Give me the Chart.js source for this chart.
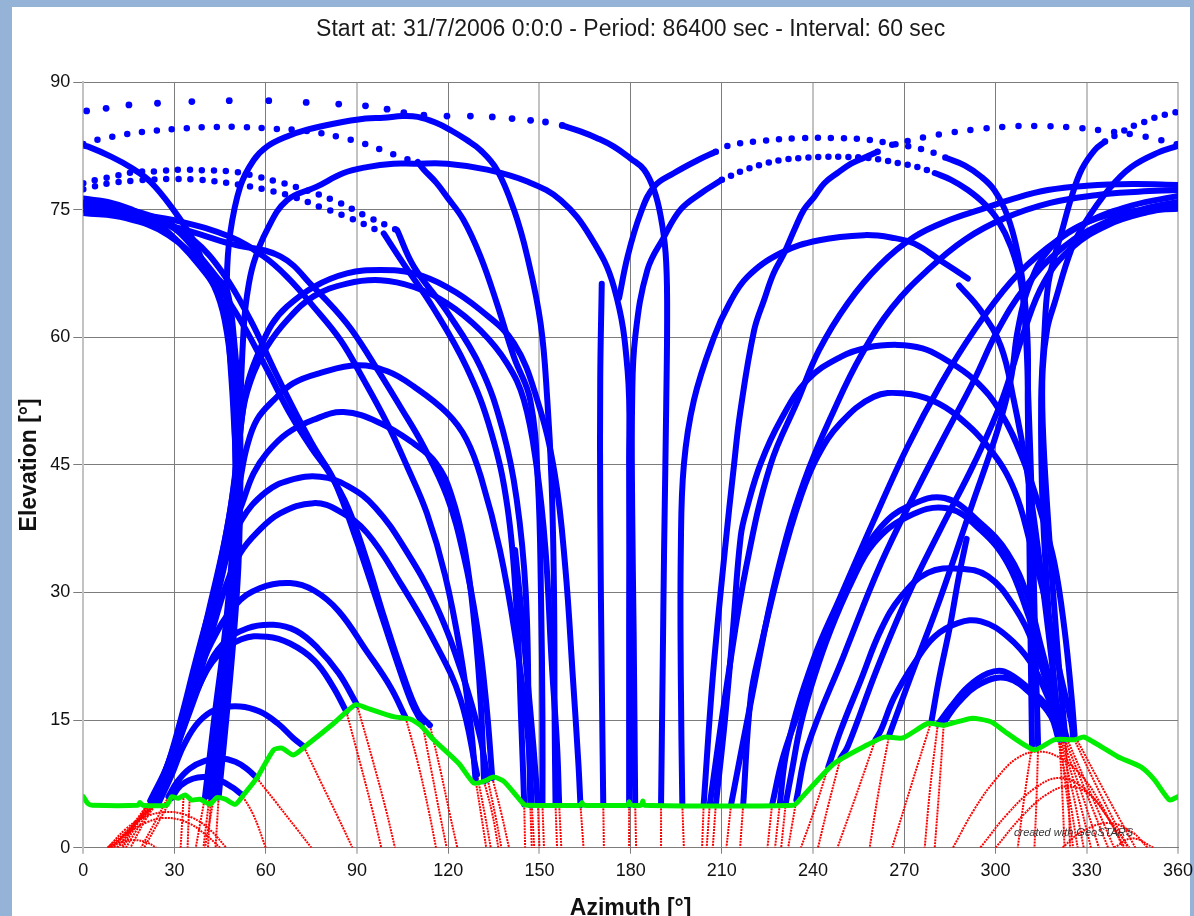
<!DOCTYPE html>
<html><head><meta charset="utf-8">
<script src="https://cdn.jsdelivr.net/npm/chart.js@4.4.1/dist/chart.umd.min.js"></script>
<style>
html,body{margin:0;padding:0;width:1194px;height:916px;overflow:hidden;background:#95b3d7;}
#frame{position:absolute;left:12px;top:7px;width:1178px;height:909px;background:#fff;}
#c{position:absolute;left:0;top:0;}
#credit{position:absolute;left:1014px;top:826px;font:italic 11px "Liberation Sans",Arial,sans-serif;color:#333;}
</style></head>
<body>
<div id="frame"></div>
<canvas id="c" width="1200" height="916"></canvas>
<div id="credit">created with GeoSTARS</div>
<script>
// ---------- DATA (azimuth °, elevation °) ----------
const xTickValues = [0,30,60,90,120,150,180,210,240,270,300,330,360];
const xTickLabels = ['0','30','60','90','120','150','180','210','240','270','300','330','360'];
const yTickValues = [0,15,30,45,60,75,90];
const yTickLabels = ['0','15','30','45','60','75','90'];

const maskTrack = [[0,6],[1.5,5.2],[3,5],[18,5],[18.6,5.3],[19.5,5],[27.4,5],[29.1,6],[31.2,5.8],[33.5,6.2],[35.7,5.6],[38.4,5.7],[41.7,5.1],[43.9,5.9],[46.7,5.7],[50,5.1],[52.7,6.2],[57.1,8.2],[62.6,11.5],[65.3,11.7],[69.1,10.9],[73.6,12.1],[82.3,14.6],[89.5,16.8],[93.3,16.4],[102,15.4],[107.6,15.1],[110.8,14.4],[115.2,12.7],[123.5,9.9],[128.4,7.6],[131.7,7.8],[135,8.3],[138.3,7.8],[142.7,6],[144.9,5.1],[146,5],[163.5,5],[164,5.3],[164.5,5],[179,5],[179.5,5.4],[180,5],[183.5,5],[184,5.5],[184.5,5],[233.6,5],[236,5.8],[246.9,9.9],[257.9,12.1],[263.4,13],[269.5,12.9],[277.7,14.6],[283.2,14.4],[292,15.2],[298.5,14.8],[304,13.4],[312.8,11.5],[319.4,12.7],[326,12.7],[329.2,13],[340.2,10.7],[347.8,9.5],[352.2,8],[357.2,5.6],[360,6]];

// sparse single dots (near zenith)
const dotPoints = [[1.1,86.6],[7.5,86.9],[15,87.3],[24.4,87.5],[35.7,87.7],[48,87.8],[61,87.8],[73.3,87.6],[84,87.4],[92.8,87.2],[99.9,86.8],[105.4,86.4],[112,86.1],[119.6,86],[127.3,86],[134.5,85.9],[141,85.7],[147.1,85.5],[152,85.3],[157.5,84.9]];

// dotted (fast moving) track parts
const dottedTracks = [
 [[0,82.7],[2.2,83],[6,83.3],[13,83.8],[21.6,84.2],[31,84.5],[41.5,84.7],[52.3,84.7],[62.8,84.5],[72.4,84.3],[84.5,83.5],[91,82.9],[99.9,81.8],[104,81.2],[110,80.6]],
 [[0,78.1],[4.4,78.5],[10,78.9],[16.5,79.4],[24,79.5],[32.4,79.7],[40.6,79.6],[48.3,79.5],[56,79],[63.7,78.3],[71.3,77.5],[82.3,76.1],[93.3,74.2],[103.2,72.6]],
 [[0,77.4],[8.7,78.1],[16.5,78.4],[29.6,78.6],[38.4,78.5],[51.6,77.9],[60.4,77.3],[69.1,76.5],[78,75.3],[87.8,74],[98.8,72.2]],
 [[208,81.8],[213,82.6],[224,83.1],[235,83.4],[249.7,83.4],[258.5,83.2],[266.7,82.7],[273.3,82.3],[278.8,81.8],[284.3,81]],
 [[210,78.5],[217,79.6],[224,80.4],[231,80.9],[237.6,81.1],[244.2,81.2],[250.8,81.2],[257.4,81.1],[263.4,80.8],[269,80.4],[274.4,80],[280,79.3]],
 [[261.2,81.8],[265,82.5],[270.5,83],[277.7,83.6],[286,84.1],[295.2,84.5],[306.2,84.8],[316.7,84.8],[327.2,84.6],[337.1,84.2],[345.7,83.8],[352.9,83.3],[360,82.65]],
 [[336,83],[340.8,84],[345.7,84.9],[349,85.3],[352.3,85.8],[356.2,86.2],[360,86.5]]
];
const dottedGaps = [15,12,12,13,10,16,11];

const blueTracks = [
 [[157.5,84.9],[163.5,84.2],[169,83.4],[174.5,82.4],[180,81],[184.4,79.7],[187.7,77.3],[189.9,74.2],[191.5,69.9],[192,64],[191.7,52],[191,35],[190.5,20],[190,5]],
 [[110,80.6],[112,79.7],[116,78.2],[119.6,76.5],[125,73.8],[130.6,69.5],[136,64],[141.6,57.7],[147,52.6],[149.5,43],[150.5,30],[151,15],[151,5]],
 [[103.2,72.6],[108.7,68.3],[119.6,63],[130.6,56.5],[138,49],[142.5,41],[145.5,30],[146.5,15],[147,5]],
 [[98.8,72.2],[105,68.8],[115,63.5],[126,56.5],[134,49],[139.5,40],[142.5,28],[144,15],[145,5.1]],
 [[42,5.9],[44.5,15],[47,25],[49,33],[50.5,40],[49.4,51.1],[47.7,60.8],[47.2,66.7],[48.3,72.2],[51.6,77.7],[56,80.8],[60.4,82.4],[67,83.6],[73.6,84.4],[82.3,85.1],[92.8,85.7],[98.8,85.8],[105,86],[110,85.9],[116,85.2],[121,84.3],[126,83.2],[130.6,82],[136,79.7],[141.6,75],[146,69.5],[150.4,61.6],[152.6,52.6],[154,43],[154.8,30],[155,15],[155.3,5]],
 [[44.5,5.9],[47,15],[49.5,25],[51,33],[51.5,40],[51.6,51.1],[52.7,60.8],[53.8,64.8],[56,68.7],[60.4,72.6],[67,76.1],[76.8,77.7],[85.6,79.3],[93.3,80],[102,80.4],[108.7,80.4],[119.6,80.4],[132.8,79.7],[146,78.3],[157,76.1],[166.8,71.8],[174.5,65.9],[179,56.1],[179.5,45],[179.5,25],[179.5,5]],
 [[170.5,66.3],[170,55],[170,40],[170.5,20],[171,5]],
 [[176.2,64.6],[179,69.5],[183.3,74.6],[187.7,77.7],[194.3,79.3],[202,80.8],[208,81.8]],
 [[284.3,81],[289.8,80.2],[295.2,78.9],[299.6,77.3],[304,74.2],[307.3,69.9],[309.5,64.8],[310.6,58.9],[310.6,52.6],[311,40],[311.5,25],[312,12]],
 [[181.5,5],[181,25],[180.5,40],[180.5,52.6],[181.5,60],[185.5,67.9],[191,71.8],[196.4,75],[203,76.9],[210,78.5]],
 [[280,79.3],[285.4,78.5],[290.9,77.3],[296.3,75.7],[300.7,73.8],[305.1,70.6],[308.4,66.3],[310,60.1],[310.8,52.6],[312,40],[313,25],[314,12]],
 [[204,5],[207,20],[211,35],[214,45],[216,51.1],[220.6,60.8],[224,64.5],[227,67.5],[230.5,69.9],[233.8,72.6],[237,75],[240.4,76.5],[243.7,78.1],[248,79.3],[252.5,80.4],[256.8,81.1],[261.2,81.8]],
 [[321,12.7],[318,25],[315.5,40],[315,52.6],[316,60],[317.2,65.9],[319.4,69.5],[321.6,72.2],[325,76.5],[328.3,79.7],[332.6,82],[336,83]],
 [[323,12.7],[320,25],[317,40],[315.5,50],[315.5,56.2],[317,61],[319.4,64],[324.9,70.3],[329.3,73.4],[337.5,77.5],[344.6,80],[353.4,81.7],[360,82.5]],
 [[0,82.5],[1.6,82.4],[9.3,81.2],[15.4,80],[22,78.3],[29.6,75],[36.2,71.4],[39.5,68.7],[44,65.5],[47.5,62],[49.5,56],[50.3,48],[50,40],[48.5,30],[46,20],[43.5,12],[41.5,6]],
 [[197,5],[196.5,20],[196.5,35],[197.5,45],[200.8,52.6],[207.4,60],[212.5,64],[218.4,67.1],[229.4,69.9],[242,71.4],[256.8,72],[266,71.7],[273.3,71],[282,69],[290.9,66.9]],
 [[288,66.1],[295,63.2],[301.8,58.9],[306,52.6],[310,45],[314,35],[317.5,25],[320,17],[321,13]],
 [[142,35],[144,28],[146,20],[148,12],[149.5,5]],
 [[290.5,36.3],[288,32],[285,26],[281.5,20],[279,15]],
 [[29,5.8],[32,7.3],[36,8.1],[40,8.3],[45,7.9],[49,7.1],[52,6.3]],
 [[28,6],[31,7.8],[35,9.3],[40,10.2],[45,10.5],[50,10.1],[54,9.2],[57,8.2]],
 [[25,5.4],[29,8.5],[33,12],[38,14.8],[44,16.3],[51.6,16.6],[58,16],[64,14.6],[69,12.9],[72.5,11.9]],
 [[24,5.3],[29,10],[33,14.5],[38,19],[44,22.5],[52,24.5],[60.4,24.8],[68,24],[76,22],[82,19],[86.5,16]],
 [[24.5,5.5],[30,11],[35,16],[40,20.5],[46,24],[54,25.8],[62.6,26.2],[70,25.5],[77,23.5],[84,20.5],[90,16.8]],
 [[24,5.5],[30,12],[36,18.5],[42,24],[50,28.5],[58,30.5],[68,31.1],[76,30.2],[84,27.8],[93,23.2],[101,18.9],[106,15.3]],
 [[23,5.6],[27.5,8.7],[33,14.2],[38.4,20.5],[42.8,26],[47.2,31.1],[51.6,34.6],[57,37],[64.7,39.3],[75.7,40.5],[84,39.6],[93.3,37],[104.3,31.1],[115.2,24.4],[124,17.5],[129.5,8.6]],
 [[22.5,5.6],[27,9],[32,15],[37,22],[42,28.5],[47,34],[52,38.5],[60,41.8],[68,43.2],[77.9,43.6],[87,42.5],[96,40],[106,35],[116,28.5],[125,20],[130.5,13],[133,8]],
 [[22,5.5],[28,10],[34,17],[40,24],[45,31],[49,37],[52.7,40.9],[56,44],[60.4,46.4],[67,48.7],[75.7,50.3],[85.6,51.2],[97.7,49.9],[108.7,47.5],[116,45.2],[121,41.5],[125.5,35],[128.7,26],[130.7,17],[131.8,7.8]],
 [[23,5.5],[29,11],[35,18],[41,26],[46,33],[50,40],[51.6,43.2],[53.8,47.1],[57.1,50.3],[62.6,52.6],[69.1,54.6],[78,55.8],[90,56.7],[100,56],[108.7,54.2],[119.6,51.1],[126,48],[131,43.3],[137,35],[142,25],[146,14],[147.5,5]],
 [[24,5.5],[30,12],[36,20],[42,29],[47,37],[50.5,45],[52.7,51.8],[56,55.8],[60.4,58.9],[67,62],[75.7,64.8],[86.7,66.3],[97.7,66.7],[108.7,65.9],[119.6,64],[130.6,60.8],[139.4,56.9],[144.9,52.6],[149,45],[152,35],[154,22],[155.8,12],[156.5,5]],
 [[24.5,5.5],[31,13],[37,21],[43,30],[48,39],[51,47],[53.8,54.2],[58,58.5],[62,61.5],[67,63.6],[75.7,65.9],[86.7,67.5],[97.7,67.9],[108.7,67.5],[119.6,65.9],[130.6,63.2],[141.6,59.3],[149.3,52.6],[155,44],[158.5,33],[161,20],[162.8,10],[163.5,5]],
 [[0,75.7],[12,75.2],[24,74],[36,71.5],[46,67.5],[55,62],[63,56],[70,51],[76,47],[82.3,43.3],[90,36],[97,28.5],[103,22],[108,17],[111.5,14.6]],
 [[0,74.6],[14,74],[28,72],[40,68],[50,63],[60,56.5],[68,51],[75,47],[81,44],[87,40],[93,34],[99,27],[105,20.5],[110,16],[114,14.4]],
 [[0,76.3],[8,75.9],[16,75],[24,73.5],[31.8,71],[38,68.5],[43,66],[46.5,62],[49,55],[50,45],[49,35],[46.5,25],[43,15],[40,5.9]],
 [[0,75.8],[15.4,74.8],[24,73.8],[31,72.5],[38.4,69.5],[44,67],[47.2,65.6],[49.5,60],[51.5,50],[51.5,40],[50,30],[47.5,20],[44.5,11],[43,6]],
 [[0,75.4],[15.4,74.6],[31.9,73.6],[48.3,71.8],[59.3,69.5],[67,67.1],[75.7,63.6],[84.5,59.7],[92.2,55],[99.9,49.9],[106.5,44.8],[113,39.3],[119,32],[124,23],[127.5,14],[129,8]],
 [[0,75],[15,74.2],[31.8,72.8],[48.3,71],[64.8,69.5],[75.7,65.9],[86.7,61.6],[95.5,56.9],[104.3,51.8],[112,47.1],[119.6,41.3],[125,34.5],[129.5,26],[132.5,17],[134.5,8.2]],
 [[206,5],[212,20],[218,33],[226,45],[235,52.6],[242,58.5],[251.4,64],[262,68.5],[273.3,71.8],[285,73.8],[295,75],[306,76.3],[317.2,77.3],[330,77.8],[345,78],[360,77.9]],
 [[213,5],[220,18],[228,32],[237,43],[248,52.3],[256,58],[266,63.5],[278,68],[290,71.5],[303,74],[318,75.8],[333,76.7],[347,77.1],[360,77.3]],
 [[229,5],[231.6,11.9],[240,22],[249,29.5],[260,38.5],[271,47.1],[282,54.5],[293,60.8],[305,66.5],[317,70.5],[330,73.5],[345,75.5],[360,76.6]],
 [[234.5,5.6],[238.2,11.9],[250,22.5],[262.3,33.4],[274,42],[284.3,49.1],[293,55],[300.7,60.8],[310,66],[322,70.5],[336,73.5],[350,75.2],[360,75.9]],
 [[249,10.5],[251.4,11.9],[261,21],[271,29.5],[282,37.5],[293,45.2],[302,52.5],[309.5,60.8],[316,66.5],[325,70.5],[337,73.2],[350,74.7],[360,75.3]],
 [[265,13.2],[272,20],[282,29.5],[292,40],[300.7,49.1],[305,55],[307.3,60.8],[311,66],[318,70.5],[330,73.5],[345,74.8],[360,75.1]],
 [[208,5],[211,15],[213.5,25],[216.2,36.6],[218.4,40.1],[222.8,45.2],[229.4,50.3],[238.2,55],[249.1,57.7],[258,58.8],[267.8,59.1],[276,58.7],[282,57.7],[293,55],[301.8,51.1],[309.5,45.2],[315,39.3],[319.4,33.4],[322.7,25.6],[325,17.7],[326,13.2]],
 [[217,5],[219.5,17.7],[222.8,23.6],[229.4,33.4],[236,41.3],[241.5,46],[249,49.9],[260,53],[270,53.4],[279,52.6],[287.6,50.7],[298.5,46.7],[306.2,42],[311.7,35.4],[316.1,29.5],[320.5,21.7],[325,14.6],[325.5,13]],
 [[226.5,5],[230,10.5],[235,15.8],[240.4,21.7],[247,27.5],[254.7,33.4],[262.3,37.7],[271.1,40.1],[283.2,41.1],[295.2,38.1],[304,34.6],[310.6,29.5],[315,23.6],[319.4,17.7],[322.7,13.8],[323.5,12.8]],
 [[231,5.2],[233,9],[236,14.6],[240.4,20.1],[245.8,25.6],[252.5,31.1],[260,35.8],[271.1,38.9],[284,39.9],[295.2,37.3],[304,33.4],[310.6,27.5],[316,21.7],[320.5,15.8],[322.5,13]],
 [[245,9.5],[249.1,13.8],[255.7,19.7],[262.3,25.6],[268.9,29.5],[277.7,32.3],[288,32.8],[297.5,31.9],[306.2,28.3],[312.8,23.6],[318.3,17.7],[321.6,13.8],[322,12.8]],
 [[260.5,12.7],[262.3,13.8],[266.7,17.7],[273.3,21.7],[279.9,24.8],[287.6,26.4],[295.2,26.6],[304,24.8],[311.7,21.7],[317.2,17.7],[320.5,14.6],[321.5,12.8]],
 [[281,14.5],[285.4,16.6],[290.9,18.9],[297.5,20.5],[302.9,20.7],[311.7,18.5],[317.2,16.6],[320,15],[321,13]],
 [[283,14.7],[287.6,17],[295.2,19.3],[304,19.9],[312.8,17.7],[318.3,15.4],[320.5,13]]
];

const redTracks = [
 [[25,5.4],[17,2.7],[8,0]],[[24,5.3],[16.5,2.7],[8.5,0]],[[24,5.5],[17,2.8],[9.5,0]],[[24.5,5.5],[18,3],[11,0]],
 [[23,5.6],[17.5,3],[12.5,0]],[[22.5,5.6],[17,2.8],[11.5,0]],[[22,5.5],[16,2.6],[10,0]],[[23,5.5],[18,2.9],[13,0]],
 [[24,5.5],[19,2.9],[14,0]],[[24.5,5.5],[20,3],[15.5,0]],[[29,5.8],[25,3.2],[20,0]],[[28,6],[24,3.3],[19,0]],
 [[40,5.9],[38.5,3],[37,0]],[[43,6],[41.5,3],[40,0]],[[41.5,6],[40.5,3],[39.5,0]],[[42,5.9],[41.5,3],[41,0]],[[44.5,5.9],[44,3],[43.5,0]],
 [[33,6.2],[32.5,3],[32,0]],[[35,5.8],[34.6,3],[34.3,0]],
 [[8,0],[14,2.2],[20,3.6],[28.6,4.2],[36,3.5],[42,2],[47,0]],
 [[9,0],[15,1.8],[21,3],[27,3.5],[34,3],[40,1.6],[45,0]],
 [[8,0],[12,0.6],[16.5,0.9],[21,0.6],[24,0]],
 [[52,6.3],[56,3.8],[60,0]],[[57,8.2],[63,5.5],[70,2.3],[75,0]],[[72.5,11.9],[78,7.8],[84,3.4],[88.5,0]],
 [[86.5,16],[91,10],[95,4.5],[98,0]],[[90,16.8],[95,10.5],[99.5,4.5],[102.5,0]],[[106,15.3],[110,10],[113.5,4.5],[116,0]],
 [[111.5,14.6],[114.5,9],[117.5,3.5],[119.5,0]],[[114,14.4],[117.5,9],[120.5,4],[123,0]],
 [[129,8],[131,3.5],[132.5,0]],[[129.5,8.6],[132,4],[134,0]],[[133,8],[135.5,3.8],[137.5,0]],[[131.8,7.8],[134.5,4],[136.5,0]],[[134.5,8.2],[137.5,4],[140,0]],
 [[145,5.1],[145.3,0]],[[147,5],[147.5,0]],[[147.5,5],[148.3,0]],[[149.5,5],[150,0]],[[151,5],[151.5,0]],[[155.3,5],[155.8,0]],[[156.5,5],[157.2,0]],[[163.5,5],[164.5,0]],
 [[171,5],[171.2,0]],[[179.5,5],[179.5,0]],[[181.5,5],[181.8,0]],[[190,5],[190,0]],[[197,5],[197.5,0]],[[204,5],[203.5,0]],[[206,5],[205,0]],
 [[208,5],[207,0]],[[213,5],[211.5,0]],[[217,5],[216,0]],[[226.5,5],[225,0]],[[229,5],[227.5,0]],[[231,5.2],[229.5,0]],[[234.5,5.6],[233,2.5],[231.8,0]],
 [[245,9.5],[240.5,4.5],[236,0]],[[249,10.5],[245,5],[241.6,0]],[[260.5,12.7],[254,6],[248,0]],[[265,13.2],[261.5,6.5],[258.6,0]],
 [[279,15],[272,7],[266,0]],[[281,14.5],[278.5,7],[276.7,0]],[[283,14.7],[281.5,7],[280,0]],
 [[312,12],[309.5,6],[307.3,0]],[[314,12],[313.5,6],[312.8,0]],
 [[326,13.2],[336,6.5],[346,0]],[[325.5,13],[334.5,6.3],[343.5,0]],[[323.5,12.8],[331.5,6.2],[339,0]],[[322.5,13],[330,6.3],[337,0]],
 [[322,12.8],[328.5,6.2],[334,0]],[[321.5,12.8],[327,6.2],[331.4,0]],[[321,13],[325.5,6.3],[329,0]],[[320.5,13],[324,6.5],[327,0]],
 [[321,12.7],[322,6],[322.7,0]],[[323,12.7],[324,6],[324.5,0]],[[321,13],[323.5,6],[325.5,0]],
 [[286,0],[293,4.5],[300,8],[307,10.5],[314,11.3],[321,10.6],[328,8.6],[334,5.5],[340,1.5],[342,0]],
 [[295,0],[304,4],[313,7],[321,8.2],[329,7],[336,4],[342.5,0]],
 [[300,0],[309,3.8],[317,6.3],[324,7.2],[331,6.2],[338,3],[344,0]],
 [[322,0],[328,1.8],[337,2.9],[345,1.8],[350,0]],
 [[339,0],[345,1.1],[352,0]]
];

// ---------- CHART ----------
const toXY = t => t.map(p => ({x:p[0], y:p[1]}));
const BLUE = 'rgb(0,0,255)', RED = 'rgb(255,0,0)', GREEN = 'rgb(0,238,0)';
const datasets = [];
datasets.push({data:toXY(maskTrack), borderColor:GREEN, borderWidth:5, pointRadius:0, showLine:true, tension:0.2, borderJoinStyle:'round', borderCapStyle:'round', order:0});
blueTracks.forEach(t => datasets.push({data:toXY(t), borderColor:BLUE, borderWidth:6, pointRadius:0, showLine:true, tension:0.4, borderCapStyle:'round', borderJoinStyle:'round', order:1}));
dottedTracks.forEach((t,i) => datasets.push({data:toXY(t), borderColor:BLUE, borderWidth:6.5, borderDash:[0,dottedGaps[i]], borderCapStyle:'round', pointRadius:0, showLine:true, tension:0.4, order:1}));
datasets.push({data:toXY(dotPoints), showLine:false, pointRadius:3.4, pointBorderWidth:0, pointBackgroundColor:BLUE, order:1});
redTracks.forEach(t => datasets.push({data:toXY(t), borderColor:RED, borderWidth:2, borderDash:[2,1], pointRadius:0, showLine:true, tension:0.4, order:2}));

// vertical grid lines that look soft (anti-aliased) in the original
const softX = [0,90,150,240,330,360];
const FONT = '"Liberation Sans", Arial, sans-serif';
new Chart(document.getElementById('c'), {
  type:'scatter',
  data:{datasets},
  options:{
    responsive:false, animation:false, devicePixelRatio:1,
    layout:{padding:{left:10,right:11,top:0,bottom:0}},
    plugins:{
      legend:{display:false}, tooltip:{enabled:false},
      title:{display:true, fullSize:false, align:'center', text:'Start at: 31/7/2006 0:0:0 - Period: 86400 sec - Interval: 60 sec',
        color:'#1a1a1a', font:{family:FONT, size:23, weight:'normal', lineHeight:1.2}, padding:{top:16, bottom:38.4}}
    },
    scales:{
      x:{type:'linear', min:0, max:360,
        afterBuildTicks:s=>{s.ticks = xTickValues.map(v=>({value:v}));},
        afterFit:s=>{s.height = 68.3;},
        ticks:{color:'#111', font:{family:FONT,size:18}, padding:7, maxRotation:0, autoSkip:false,
          callback:(v)=>xTickLabels[xTickValues.indexOf(v)]},
        grid:{color:c=>(c.tick && softX.includes(c.tick.value)) ? '#c2c2c2' : '#7c7c7c',
              lineWidth:c=>(c.tick && softX.includes(c.tick.value)) ? 2 : 1, tickLength:6},
        border:{color:'#7c7c7c'},
        title:{display:true, text:'Azimuth [°]', color:'#111', font:{family:FONT,size:23,weight:'bold',lineHeight:1}, padding:{top:0,bottom:-4}}
      },
      y:{type:'linear', min:0, max:90,
        afterBuildTicks:s=>{s.ticks = yTickValues.map(v=>({value:v}));},
        afterFit:s=>{s.width = 73.3;},
        ticks:{color:'#111', font:{family:FONT,size:18}, padding:3, autoSkip:false,
          callback:(v)=>yTickLabels[yTickValues.indexOf(v)]},
        grid:{color:'#7c7c7c', lineWidth:1, tickLength:10},
        border:{color:'#c2c2c2', width:2},
        title:{display:true, text:'Elevation [°]', color:'#111', font:{family:FONT,size:23,weight:'bold',lineHeight:1}, padding:{top:8,bottom:0}}
      }
    }
  }
});
</script>
</body></html>
